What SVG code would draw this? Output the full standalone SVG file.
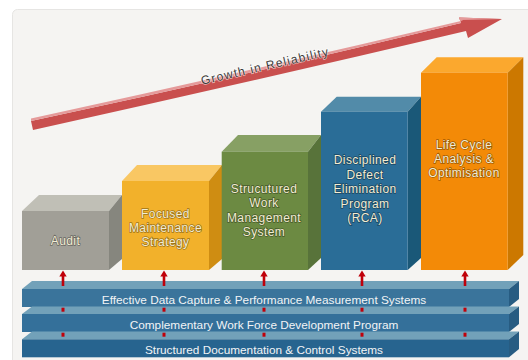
<svg xmlns="http://www.w3.org/2000/svg" width="528" height="360" viewBox="0 0 528 360">
<defs>
<style>
.bt{font-family:"Liberation Sans",Arial,sans-serif;font-size:12px;letter-spacing:0.4px;fill:#f3edd3;stroke:rgba(0,0,0,0.38);stroke-width:1.4px;paint-order:stroke;text-anchor:middle}
.lt{font-family:"Liberation Sans",Arial,sans-serif;font-size:11.8px;fill:#f2f4f6;text-anchor:middle}
.bar-top{fill:#72a1b9}
.bar-front{fill:#34709a}
.bar-side{fill:#275c82}
.conn{fill:#c0000a}
</style>
</defs>
<rect x="0" y="0" width="528" height="360" fill="#ffffff"/>
<rect x="12.5" y="9.5" width="530" height="360" rx="5" fill="#f5f4f2" stroke="#e6e5e3"/>

<g id="growth-arrow">
<path d="M31,121 Q250,74 461,23 L459,17.5 L502,19 L468,38 L466,31 Q250,82 33,130 Z" fill="#c94f4e"/>
<path d="M31,121 Q250,74 461,23 L459,17.5 L502,19 L462,20 L463,20.5 Q250,71 31,118.5 Z" fill="#e59a9a"/>
<text x="0" y="0" transform="translate(266,70) rotate(-13)" font-family="'Liberation Sans',Arial,sans-serif" font-size="12" letter-spacing="1.2" fill="#3c3a3a" stroke="#ffffff" stroke-opacity="0.6" stroke-width="1.5" paint-order="stroke" text-anchor="middle">Growth in Reliability</text>
</g>

<g id="audit">
<polygon points="22,211 39,195 122,195 109,211" fill="#c0bfb6"/>
<polygon points="109,211 122,195 122,259 109,270" fill="#86867e"/>
<rect x="22" y="211" width="87" height="59" fill="#a19f97"/>
<text class="bt" x="65.5" y="245">Audit</text>
</g>

<g id="focused">
<polygon points="122,181 137,165 222,165 209,181" fill="#f9c763"/>
<polygon points="209,181 222,165 222,259 209,270" fill="#cf8d12"/>
<rect x="122" y="181" width="87" height="89" fill="#f2b12b"/>
<text class="bt" x="165.5" y="217.5">Focused</text>
<text class="bt" x="165.5" y="232">Maintenance</text>
<text class="bt" x="165.5" y="246">Strategy</text>
</g>

<g id="structured">
<polygon points="221.7,151.7 238,135 321,135 308,151.7" fill="#87a064"/>
<polygon points="308,151.7 321,135 321,258 308,270" fill="#58733a"/>
<rect x="221.7" y="151.7" width="86.3" height="118.3" fill="#6c8a42"/>
<text class="bt" x="264" y="192.5">Strucutured</text>
<text class="bt" x="264" y="207">Work</text>
<text class="bt" x="264" y="221.5">Management</text>
<text class="bt" x="264" y="235.5">System</text>
</g>

<g id="disciplined">
<polygon points="321,111.7 336.7,96.7 421,96.7 407.7,111.7" fill="#528ba9"/>
<polygon points="407.7,111.7 421,96.7 421,258 407.7,270" fill="#1a5878"/>
<rect x="321" y="111.7" width="86.7" height="158.3" fill="#2a6d97"/>
<text class="bt" x="365" y="164">Disciplined</text>
<text class="bt" x="365" y="178.5">Defect</text>
<text class="bt" x="365" y="193">Elimination</text>
<text class="bt" x="365" y="207.5">Program</text>
<text class="bt" x="365" y="222">(RCA)</text>
</g>

<g id="lifecycle">
<polygon points="421,72.7 436.7,57.3 523.3,57.3 507.7,72.7" fill="#fba82e"/>
<polygon points="507.7,72.7 523.3,57.3 523.3,255 507.7,270" fill="#cc7800"/>
<rect x="421" y="72.7" width="86.7" height="197.3" fill="#f38a07"/>
<text class="bt" x="464" y="148.5">Life Cycle</text>
<text class="bt" x="464" y="163">Analysis &amp;</text>
<text class="bt" x="464" y="177">Optimisation</text>
</g>

<g id="bar-data">
<polygon class="bar-top" points="22,289 32,281 519,281 509,289"/>
<polygon class="bar-side" points="509,289 519,281 519,299 509,307"/>
<rect class="bar-front" x="22" y="289" width="487" height="18" style="fill:#3a749b"/>
<text class="lt" x="264" y="303.8">Effective Data Capture &amp; Performance Measurement Systems</text>
</g>

<g id="bar-workforce">
<polygon class="bar-top" points="22,314 32,306.5 519,306.5 509,314"/>
<polygon class="bar-side" points="509,314 519,306.5 519,324 509,332"/>
<rect class="bar-front" x="22" y="314" width="487" height="18"/>
<text class="lt" x="264" y="328.7">Complementary Work Force Development Program</text>
</g>

<g id="bar-documentation">
<polygon class="bar-top" points="22,339.3 32,331.5 519,331.5 509,339.3"/>
<polygon class="bar-side" points="509,339.3 519,331.5 519,349 509,357.3"/>
<rect class="bar-front" x="22" y="339.3" width="487" height="18" style="fill:#27648f"/>
<text class="lt" x="264" y="354">Structured Documentation &amp; Control Systems</text>
</g>

<g id="connectors">
<g>
<rect class="conn" x="61.7" y="276" width="2.6" height="10"/>
<polygon class="conn" points="59.3,276.5 63,270.5 66.7,276.5"/>
<rect class="conn" x="61.5" y="307.7" width="3" height="4"/>
<rect class="conn" x="61.5" y="332.7" width="3" height="4"/>
</g>
<g>
<rect class="conn" x="162.7" y="276" width="2.6" height="10"/>
<polygon class="conn" points="160.3,276.5 164,270.5 167.7,276.5"/>
<rect class="conn" x="162.5" y="307.7" width="3" height="4"/>
<rect class="conn" x="162.5" y="332.7" width="3" height="4"/>
</g>
<g>
<rect class="conn" x="262.7" y="276" width="2.6" height="10"/>
<polygon class="conn" points="260.3,276.5 264,270.5 267.7,276.5"/>
<rect class="conn" x="262.5" y="307.7" width="3" height="4"/>
<rect class="conn" x="262.5" y="332.7" width="3" height="4"/>
</g>
<g>
<rect class="conn" x="360.7" y="276" width="2.6" height="10"/>
<polygon class="conn" points="358.3,276.5 362,270.5 365.7,276.5"/>
<rect class="conn" x="360.5" y="307.7" width="3" height="4"/>
<rect class="conn" x="360.5" y="332.7" width="3" height="4"/>
</g>
<g>
<rect class="conn" x="463.7" y="276" width="2.6" height="10"/>
<polygon class="conn" points="461.3,276.5 465,270.5 468.7,276.5"/>
<rect class="conn" x="463.5" y="307.7" width="3" height="4"/>
<rect class="conn" x="463.5" y="332.7" width="3" height="4"/>
</g>
</g>
</svg>
